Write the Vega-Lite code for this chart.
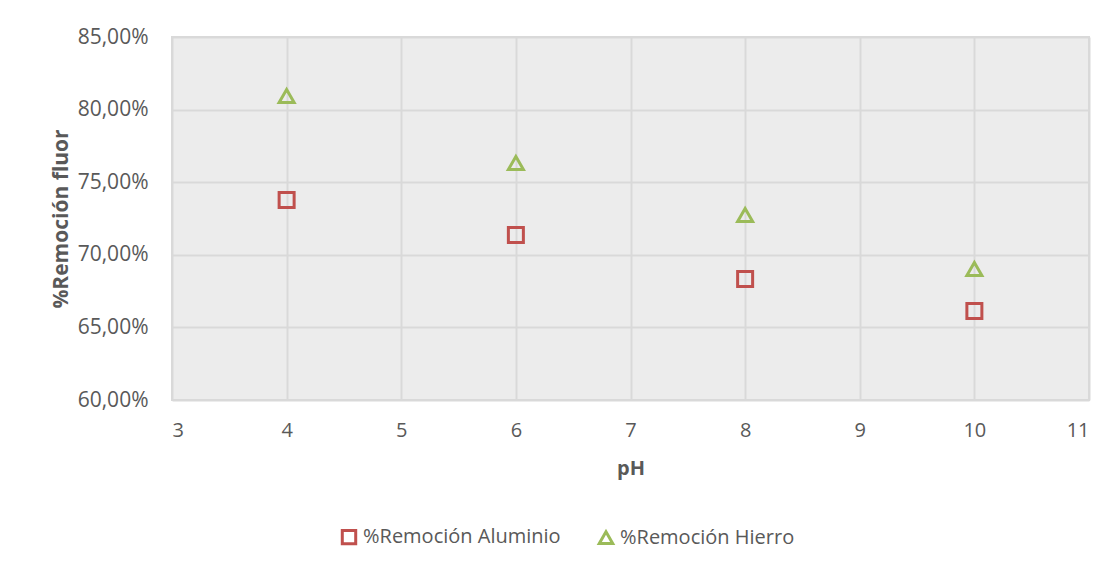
{
  "$schema": "https://vega.github.io/schema/vega-lite/v6.json",
  "autosize": "none",
  "width": 917,
  "height": 363,
  "padding": {"left": 172, "top": 37, "right": 28, "bottom": 169},
  "background": "white",
  "data": {
    "values": [
      {"pH": 4, "valor": 0.7377, "serie": "%Remoción Aluminio"},
      {"pH": 6, "valor": 0.7136, "serie": "%Remoción Aluminio"},
      {"pH": 8, "valor": 0.6833, "serie": "%Remoción Aluminio"},
      {"pH": 10, "valor": 0.6613, "serie": "%Remoción Aluminio"},
      {"pH": 4, "valor": 0.8094, "serie": "%Remoción Hierro"},
      {"pH": 6, "valor": 0.7632, "serie": "%Remoción Hierro"},
      {"pH": 8, "valor": 0.7274, "serie": "%Remoción Hierro"},
      {"pH": 10, "valor": 0.6902, "serie": "%Remoción Hierro"}
    ]
  },
  "mark": {"type": "point", "filled": false, "strokeWidth": 3, "size": 225, "opacity": 1},
  "encoding": {
    "x": {
      "field": "pH", "type": "quantitative",
      "scale": {"domain": [3, 11], "nice": false, "zero": false},
      "axis": {
        "title": "pH", "values": [3,4,5,6,7,8,9,10,11], "labelFontSize": 20, "labelColor": "#595959",
        "labelFont": "Open Sans", "titleFont": "Open Sans", "titleFontSize": 20, "titleColor": "#595959", "titleFontWeight": "bold",
        "labelPadding": 20, "titlePadding": 18, "ticks": false, "domain": false,
        "grid": true, "gridColor": "#d9d9d9", "gridWidth": 2
      }
    },
    "y": {
      "field": "valor", "type": "quantitative",
      "scale": {"domain": [0.6, 0.85], "nice": false, "zero": false},
      "axis": {
        "title": "%Remoción fluor", "values": [0.6, 0.65, 0.7, 0.75, 0.8, 0.85],
        "labelExpr": "replace(format(datum.value, '.2%'), '.', ',')",
        "labelFontSize": 21, "labelColor": "#595959", "labelFont": "Open Sans",
        "titleFont": "Open Sans", "titleFontSize": 21, "titleColor": "#595959", "titleFontWeight": "bold",
        "labelPadding": 24, "titlePadding": 6, "ticks": false, "domain": false,
        "grid": true, "gridColor": "#d9d9d9", "gridWidth": 2
      }
    },
    "color": {
      "field": "serie", "type": "nominal",
      "scale": {"domain": ["%Remoción Aluminio", "%Remoción Hierro"], "range": ["#C0504D", "#9BBB59"]},
      "legend": {
        "title": null, "orient": "none", "legendX": 167, "legendY": 490, "direction": "horizontal",
        "labelFont": "Open Sans", "labelFontSize": 20, "labelColor": "#595959", "labelLimit": 400,
        "symbolSize": 180, "symbolStrokeWidth": 3, "columnPadding": 32, "labelOffset": 4
      }
    },
    "shape": {
      "field": "serie", "type": "nominal",
      "scale": {"domain": ["%Remoción Aluminio", "%Remoción Hierro"], "range": ["square", "triangle-up"]}
    }
  },
  "config": {
    "view": {"fill": "#ececec", "stroke": "#d9d9d9", "strokeWidth": 2}
  }
}
